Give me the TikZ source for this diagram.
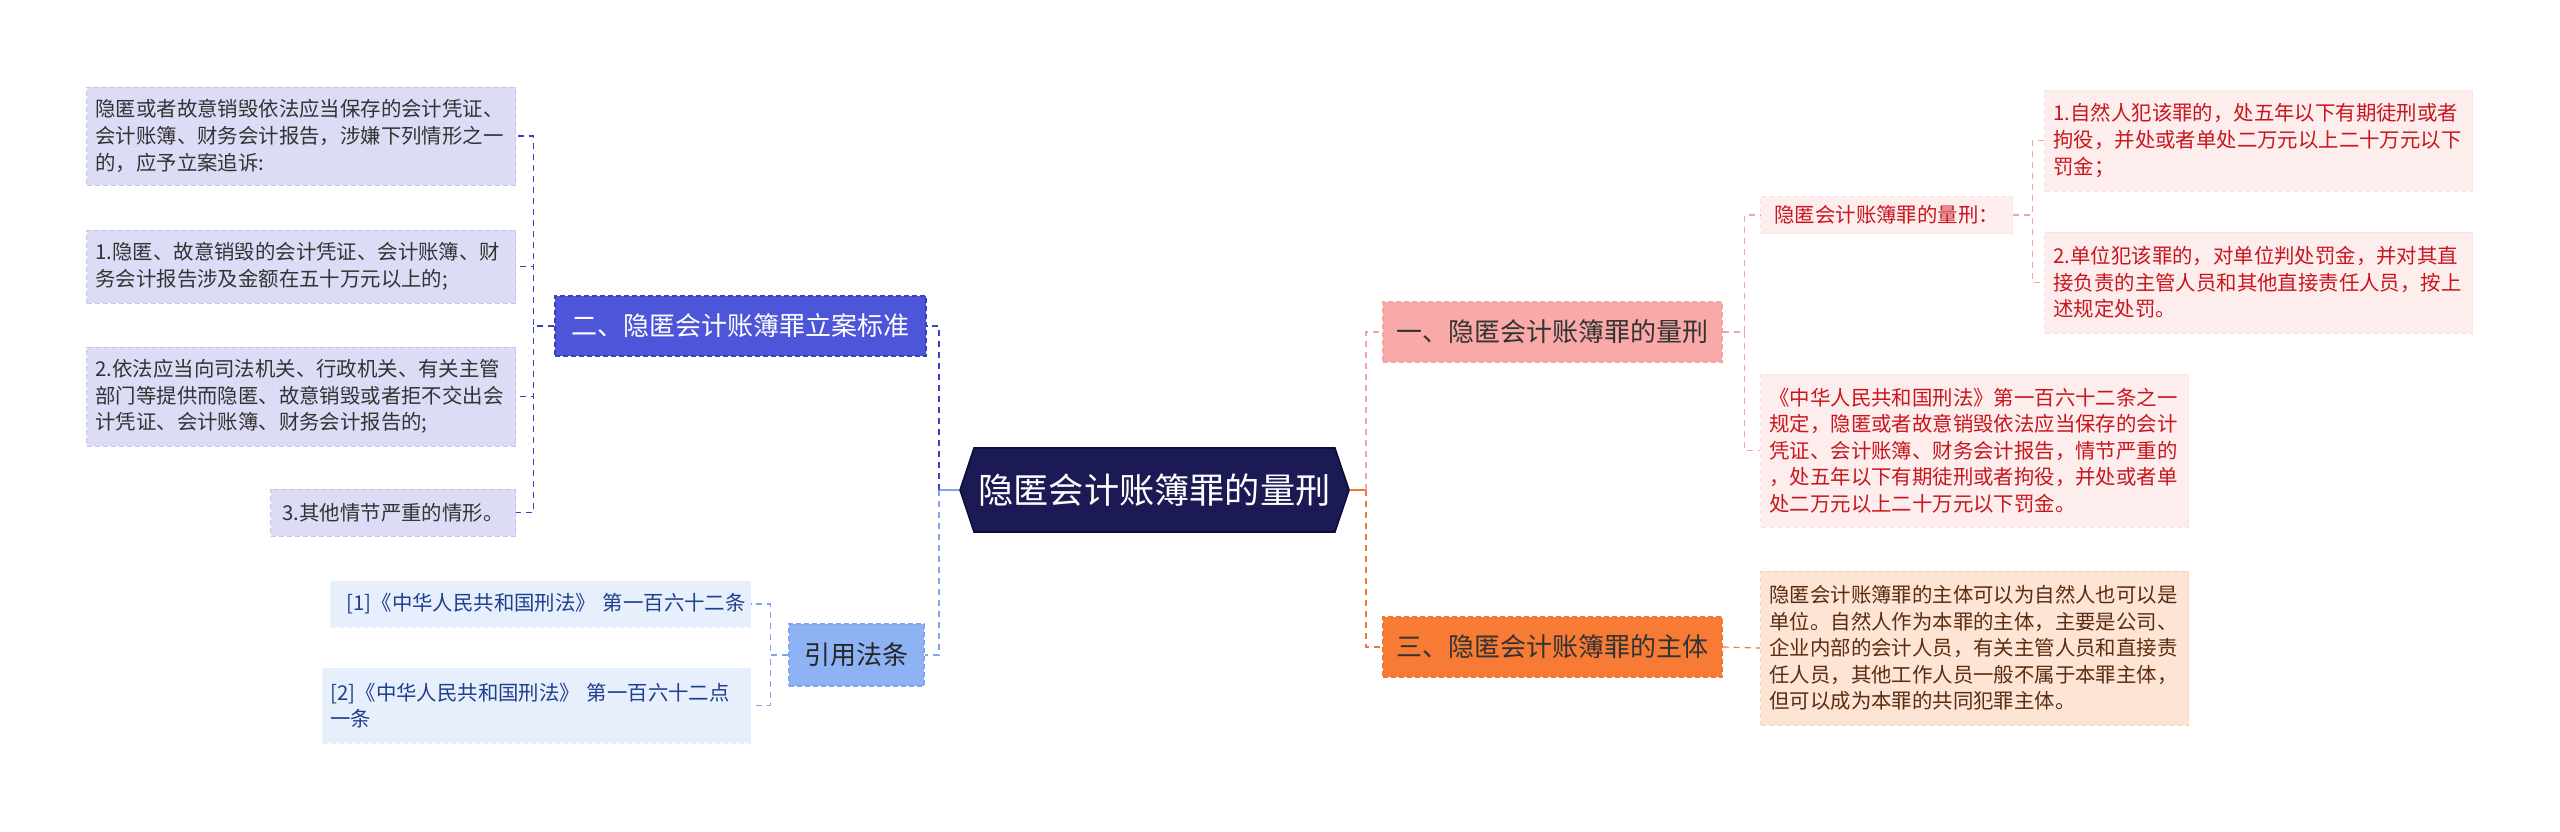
\documentclass[tikz,border=0pt]{standalone}
\usepackage{fontspec}
\setmainfont{Noto Sans CJK SC}
\usetikzlibrary{shapes,arrows,positioning}

\definecolor{rootfill}{HTML}{1B1A55}
\definecolor{rootline}{HTML}{0E0D38}
\definecolor{blufill}{HTML}{4D55D9}
\definecolor{bluline}{HTML}{3A40C2}
\definecolor{lavfill}{HTML}{DCDCF6}
\definecolor{lavline}{HTML}{C4C4EA}
\definecolor{skyfill}{HTML}{8DB3F5}
\definecolor{skyline}{HTML}{7FA5EA}
\definecolor{icefill}{HTML}{E7EFFC}
\definecolor{icetext}{HTML}{1E3F8E}
\definecolor{pinkfill}{HTML}{F9AAA8}
\definecolor{pinkline}{HTML}{F2A3A3}
\definecolor{rosefill}{HTML}{FDEDED}
\definecolor{rosetext}{HTML}{C8161D}
\definecolor{orgfill}{HTML}{F77B35}
\definecolor{orgline}{HTML}{EE7A3A}
\definecolor{peachfill}{HTML}{FDE4D5}
\definecolor{peachtext}{HTML}{5B2C0F}
\definecolor{inktext}{HTML}{333333}

\begin{document}
\begin{tikzpicture}[x=0.5pt,y=-0.5pt,
  root/.style={shape=signal,signal to=west and east,signal pointer angle=143,
    fill=rootfill,draw=rootline,line width=0.8pt,text=white,
    minimum width=194.5pt,minimum height=42pt,inner xsep=1pt,
    font=\fontsize{17.6}{20}\selectfont},
  branch/.style={draw,dashed,dash pattern=on 2.5pt off 1.5pt,line width=0.6pt,
    minimum height=30pt,inner xsep=4pt,font=\fontsize{13}{15}\selectfont},
  leaf/.style={draw,dashed,dash pattern=on 2.5pt off 1.5pt,line width=0.5pt,
    align=left,inner xsep=4.5pt,inner ysep=3pt,
    font=\fontsize{10.2}{13.3}\selectfont},
  lnk/.style={dashed,dash pattern=on 3pt off 2.5pt,line width=0.9pt},
  lnkthin/.style={dashed,dash pattern=on 3pt off 2.5pt,line width=0.6pt}]
\useasboundingbox (0,0) rectangle (2560,831);

% Draw root
\node[root] (root) at (1154.5,490) {隐匿会计账簿罪的量刑};

% Draw left branches
\node[branch,fill=blufill,draw=bluline,text=white,minimum width=185.5pt] (std) at (740.5,326) {二、隐匿会计账簿罪立案标准};
\node[branch,fill=skyfill,draw=skyline,text=black!85,minimum width=67.5pt,minimum height=31pt] (cite) at (856.5,655) {引用法条};

% Draw right branches
\node[branch,fill=pinkfill,draw=pinkline,text=inktext,minimum width=169.5pt] (pen) at (1552.5,332) {一、隐匿会计账簿罪的量刑};
\node[branch,fill=orgfill,draw=orgline,text=inktext,minimum width=169.5pt] (sub) at (1552.5,647) {三、隐匿会计账簿罪的主体};

% Draw leaves of the filing standard
\node[leaf,fill=lavfill,draw=lavline,text=inktext,text width=205.5pt,minimum height=49pt,anchor=east] (stdA) at (516,136)
  {隐匿或者故意销毁依法应当保存的会计凭证、\\会计账簿、财务会计报告，涉嫌下列情形之一\\的，应予立案追诉:};
\node[leaf,fill=lavfill,draw=lavline,text=inktext,text width=205.5pt,minimum height=36.5pt,anchor=east] (std1) at (516,266.5)
  {1.隐匿、故意销毁的会计凭证、会计账簿、财\\务会计报告涉及金额在五十万元以上的;};
\node[leaf,fill=lavfill,draw=lavline,text=inktext,text width=205.5pt,minimum height=49.5pt,anchor=east] (std2) at (516,396.5)
  {2.依法应当向司法机关、行政机关、有关主管\\部门等提供而隐匿、故意销毁或者拒不交出会\\计凭证、会计账簿、财务会计报告的;};
\node[leaf,fill=lavfill,draw=lavline,text=inktext,inner xsep=6pt,minimum height=23.5pt,anchor=east] (std3) at (516,512.5)
  {3.其他情节严重的情形。};

% Draw cited articles
\node[leaf,fill=icefill,draw=icefill,text=icetext,text width=199pt,inner xsep=5.5pt,minimum height=23pt,anchor=east] (cite1) at (751,604)
  {\hspace*{2.5pt}[1]《中华人民共和国刑法》~第一百六十二条};
\node[leaf,fill=icefill,draw=icefill,text=icetext,text width=206pt,inner xsep=4pt,minimum height=37.5pt,anchor=east] (cite2) at (751,705.5)
  {[2]《中华人民共和国刑法》 第一百六十二点\\一条};

% Draw leaves of the penalty
\node[leaf,fill=rosefill,draw=rosefill!80!pinkline,text=rosetext,inner xsep=7pt,minimum height=18.5pt,anchor=west] (penA) at (1760,215)
  {隐匿会计账簿罪的量刑：};
\node[leaf,fill=rosefill,draw=rosefill!80!pinkline,text=rosetext,text width=205pt,minimum height=50.5pt,anchor=west] (penA1) at (2044,140.5)
  {1.自然人犯该罪的，处五年以下有期徒刑或者\\拘役，并处或者单处二万元以上二十万元以下\\罚金；};
\node[leaf,fill=rosefill,draw=rosefill!80!pinkline,text=rosetext,text width=205pt,minimum height=50.5pt,anchor=west] (penA2) at (2044,282.5)
  {2.单位犯该罪的，对单位判处罚金，并对其直\\接负责的主管人员和其他直接责任人员，按上\\述规定处罚。};
\node[leaf,fill=rosefill,draw=rosefill!80!pinkline,text=rosetext,text width=205pt,minimum height=76.5pt,anchor=west] (penB) at (1760,450.5)
  {《中华人民共和国刑法》第一百六十二条之一\\规定，隐匿或者故意销毁依法应当保存的会计\\凭证、会计账簿、财务会计报告，情节严重的\\，处五年以下有期徒刑或者拘役，并处或者单\\处二万元以上二十万元以下罚金。};

% Draw leaf of the subject
\node[leaf,fill=peachfill,draw=peachfill!80!orgline,text=peachtext,text width=205pt,minimum height=77pt,anchor=west] (subA) at (1760,648)
  {隐匿会计账簿罪的主体可以为自然人也可以是\\单位。自然人作为本罪的主体，主要是公司、\\企业内部的会计人员，有关主管人员和直接责\\任人员，其他工作人员一般不属于本罪主体，\\但可以成为本罪的共同犯罪主体。};

% Draw connectors
\draw[skyline,line width=0.9pt] (root.west) -- ++(-20,0) coordinate (lhub);
\draw[orgline,line width=0.9pt] (root.east) -- ++(16,0) coordinate (rhub);
\draw[lnk,bluline] (lhub) |- (std.east);
\draw[lnk,skyline] (lhub) |- (cite.east);
\draw[lnk,pinkline] (rhub) |- (pen.west);
\draw[lnk,orgline] (rhub) |- (sub.west);

\foreach \leafname in {stdA,std1,std2,std3}
    \draw[lnk,bluline] (std.west) -- ++(-21,0) |- (\leafname.east);
\foreach \leafname in {cite1,cite2}
    \draw[lnkthin,skyline] (cite.west) -- ++(-18,0) |- (\leafname.east);
\foreach \leafname in {penA,penB}
    \draw[lnkthin,pinkline] (pen.east) -- ++(22,0) |- (\leafname.west);
\foreach \leafname in {penA1,penA2}
    \draw[lnkthin,pinkline] (penA.east) -- ++(19,0) |- (\leafname.west);
\draw[lnkthin,orgline] (sub.east) -- (subA.west);
\end{tikzpicture}
\end{document}
